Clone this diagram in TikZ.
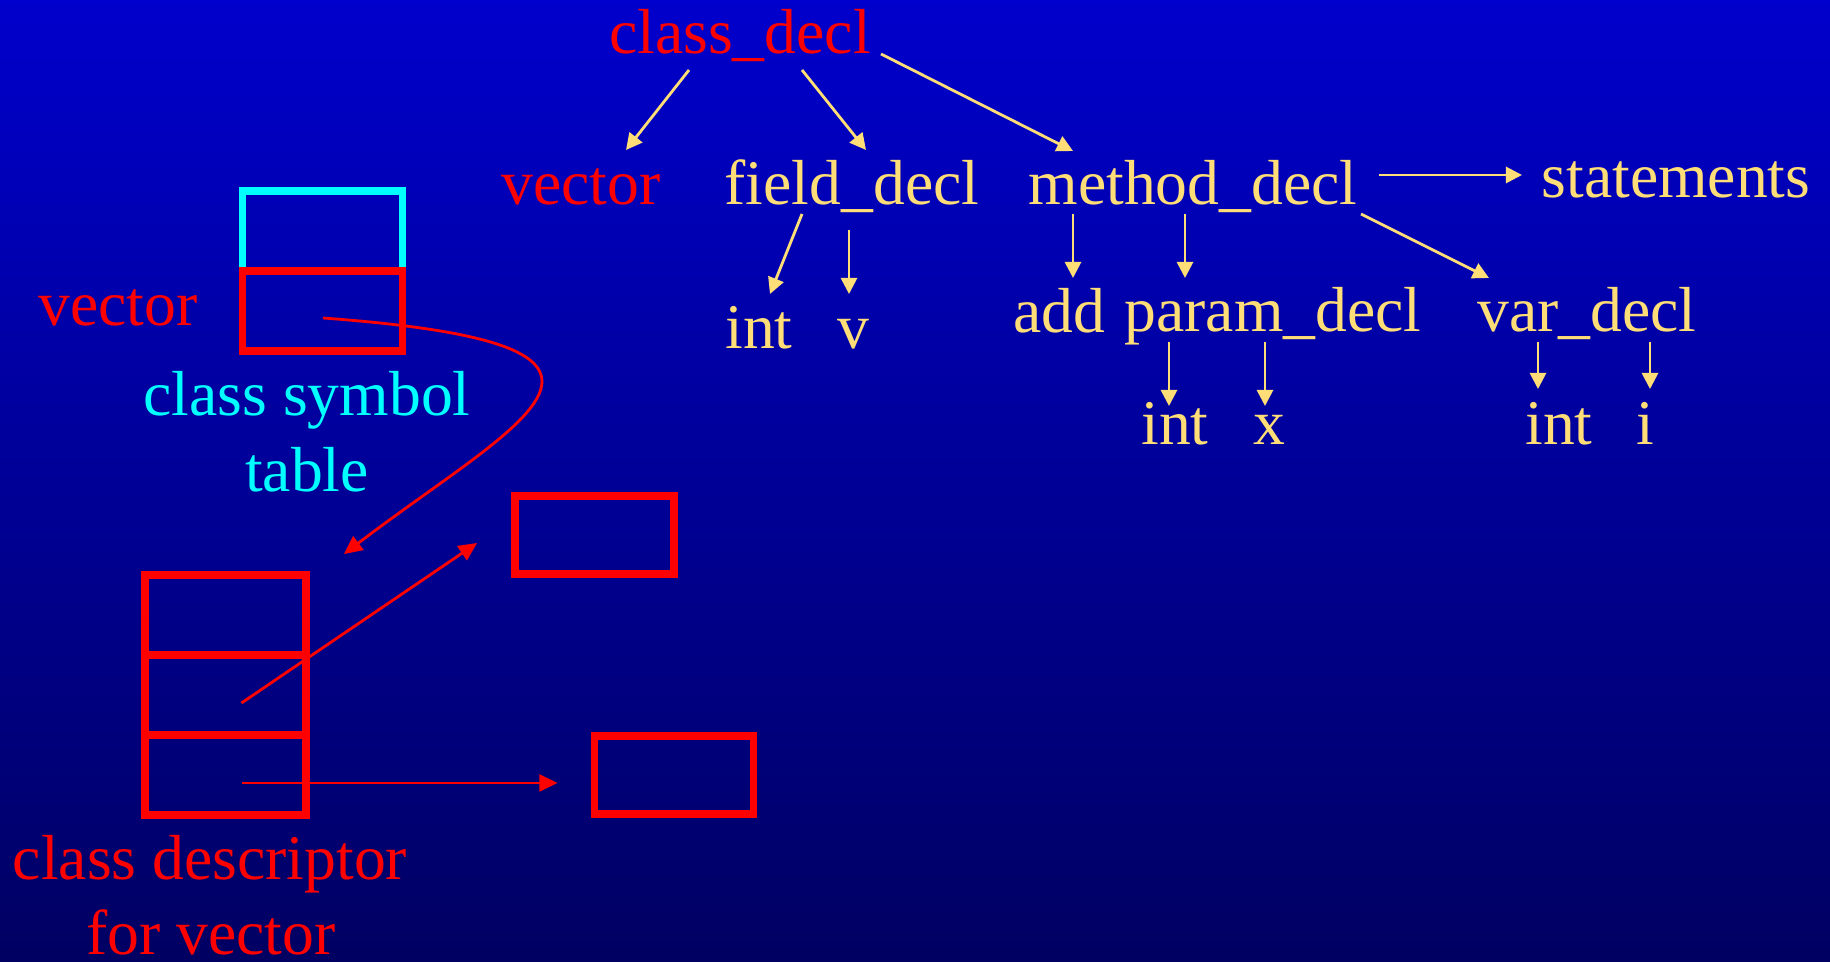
\documentclass[tikz,border=0pt]{standalone}
\usepackage{fontspec}
\setmainfont{Liberation Serif}
\usetikzlibrary{arrows.meta,calc}
\definecolor{ylw}{RGB}{255,221,119}
\definecolor{cyn}{RGB}{0,255,255}
\definecolor{rd}{RGB}{255,0,0}
\definecolor{bgtop}{RGB}{0,0,204}
\definecolor{bgbot}{RGB}{0,0,98}
\begin{document}
\begin{tikzpicture}[x=0.01cm,y=-0.01cm,
  lbl/.style={inner sep=0pt,anchor=base,font=\fontsize{18.1}{21.7}\selectfont},
  ytxt/.style={lbl,text=ylw},
  rtxt/.style={lbl,text=rd},
  ctxt/.style={lbl,text=cyn},
  yarr/.style={draw=ylw,line width=0.8pt,-{Triangle[length=4.6pt,width=4.6pt]}},
  rarr/.style={draw=rd,line width=0.8pt,-{Triangle[length=5.2pt,width=4.8pt]}},
  cell/.style={draw=rd,line width=2.2pt,minimum width=1.60cm,minimum height=0.80cm,inner sep=0pt},
]
% background
\shade[top color=bgtop,bottom color=bgbot] (0,0) rectangle (1830,962);
\useasboundingbox (0,0) rectangle (1830,962);

% tree labels
\node[rtxt] (cdecl) at (740,54) {class\_decl};
\node[rtxt] (vecT) at (581,205) {vector};
\node[ytxt] (field) at (852,205) {field\_decl};
\node[ytxt] (method) at (1193,205) {method\_decl};
\node[ytxt] (stmts) at (1676,198) {statements};
\node[ytxt] (int1) at (759,349) {int};
\node[ytxt] (v) at (853,349) {v};
\node[ytxt] (add) at (1059,333) {add};
\node[ytxt] (param) at (1273,332) {param\_decl};
\node[ytxt] (var) at (1587,332) {var\_decl};
\node[ytxt] (int2) at (1175,445) {int};
\node[ytxt] (xx) at (1269,445) {x};
\node[ytxt] (int3) at (1559,445) {int};
\node[ytxt] (ii) at (1645,445) {i};

% tree arrows
\draw[yarr] ($(cdecl.base)+(-51,16)$) -- ($(vecT.base)+(45,-55)$);
\draw[yarr] ($(cdecl.base)+(62,16)$) -- ($(field.base)+(14,-55)$);
\draw[yarr] ($(cdecl.base)+(141,0)$) -- ($(method.base)+(-120,-54)$);
\draw[yarr] ($(field.base)+(-50,9)$) -- ($(int1.base)+(11,-55)$);
\draw[yarr] ($(field.base)+(-3,25)$) -- ($(v.base)+(-4,-55)$);
\draw[yarr] ($(method.base)+(-120,9)$) -- ($(add.base)+(14,-55)$);
\draw[yarr] ($(method.base)+(-8,9)$) -- ($(param.base)+(-88,-54)$);
\draw[yarr] ($(method.base)+(186,-30)$) -- ($(stmts.base)+(-154,-23)$);
\draw[yarr] ($(method.base)+(168,9)$) -- ($(var.base)+(-98,-54)$);
\draw[yarr] ($(param.base)+(-104,10)$) -- ($(int2.base)+(-6,-39)$);
\draw[yarr] ($(param.base)+(-8,10)$) -- ($(xx.base)+(-4,-39)$);
\draw[yarr] ($(var.base)+(-49,10)$) -- ($(int3.base)+(-21,-56)$);
\draw[yarr] ($(var.base)+(63,10)$) -- ($(ii.base)+(5,-56)$);

% class symbol table
\node[cell,draw=cyn] (symc) at (322.5,231) {};
\node[cell] (symr) at (322.5,311) {};
\node[rtxt] (vecL) at (118,326) {vector};
\node[ctxt] (cst1) at (307,416) {class symbol};
\node[ctxt] (cst2) at (307,492) {table};

% class descriptor
\node[cell,minimum width=1.61cm] (d1) at (225.5,615) {};
\node[cell,minimum width=1.61cm] (d2) at (225.5,695) {};
\node[cell,minimum width=1.61cm] (d3) at (225.5,775) {};
\node[cell,minimum width=1.59cm,minimum height=0.78cm] (b1) at (594.5,535) {};
\node[cell,minimum width=1.59cm,minimum height=0.78cm] (b2) at (674,775) {};
\node[rtxt] (cdesc1) at (210,880) {class descriptor};
\node[rtxt] (cdesc2) at (211,955) {for vector};

% red connectors
\draw[rarr] ($(symr.center)+(0.5,7)$) .. controls (690,345) and (520,420) .. ($(d1.north east)+(34,-17)$);
\draw[rarr] ($(d2.center)+(16,8)$) -- ($(b1.west)+(-34,8)$);
\draw[rarr] ($(d3.center)+(16,8)$) -- ($(b2.west)+(-33,8)$);
\end{tikzpicture}
\end{document}
